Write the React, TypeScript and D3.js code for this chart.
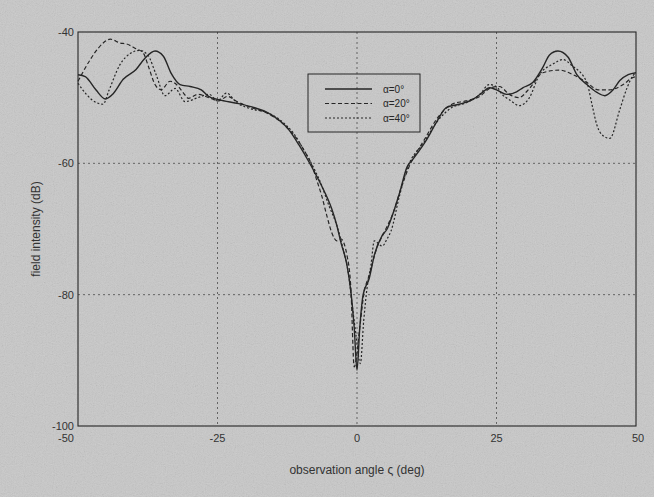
import React from "react";
import * as d3 from "d3";

const xTicks = [-50, -25, 0, 25, 50];
const yTicks = [-40, -60, -80, -100];
const legendLabels = ["α=0°", "α=20°", "α=40°"];

const xA0 = [-50, -48.7, -46.8, -45.1, -43.7, -41.9, -39.6, -38, -36.2, -34.7, -33.3, -31.7, -29.9, -27.9, -26.6, -24.8, -21.2, -18.5, -16.2, -14, -12.2, -10.4, -8.6, -7.2, -6.3, -4.5, -3.6, -2.9, -1.8, -1.1, -0.5, 0, 0.5, 1.1, 2.2, 3.1, 4.5, 5.4, 6.1, 7.6, 9, 9.9, 12.4, 14.2, 16, 18.3, 20.7, 22.5, 23.7, 25, 26.8, 28.6, 29.7, 31.5, 33.3, 34.5, 36, 37.8, 39.4, 41.2, 43, 44.4, 45.9, 47.1, 48.6, 50];
const yA0 = [-46.5, -46.8, -48.8, -50.2, -49.4, -47.2, -45.7, -44.0, -42.9, -43.7, -46.3, -48, -48.3, -48.8, -49.8, -50.3, -50.9, -51.5, -52.2, -53.4, -54.9, -57.2, -59.8, -62, -63.5, -67, -69.5, -72, -75.5, -79.5, -85, -91.5, -85, -80, -77.5, -74, -71, -70, -68.5, -64.6, -60.5, -59.5, -56.5, -53.8, -51.5, -51, -50.3, -49.2, -48.5, -48.8, -49.5, -49.1, -48.5, -47.7, -45.4, -43.5, -42.9, -43.8, -46.5, -48, -49.2, -49.7, -48.8, -47.4, -46.5, -46.2];

const xA20 = [-50, -47.8, -46.4, -44.2, -42.4, -41.4, -39.7, -38.3, -37.4, -36.2, -35.1, -33.5, -32, -31.1, -30.2, -28.5, -26.5, -24.8, -23.2, -21.5, -19, -16, -13.5, -11.5, -9.5, -8, -7.2, -6.3, -5.4, -4.5, -3.6, -2.9, -1.8, -1.1, -0.5, 0.5, 1.2, 2.2, 3.5, 5, 6.5, 8, 9.5, 12, 14.5, 17, 19.5, 22, 24, 25.5, 27.3, 29, 31, 33.3, 36.3, 38.7, 41.2, 43.2, 45.3, 47.7, 49.5, 50];
const yA20 = [-47.5, -44.2, -42.5, -41.1, -41.7, -41.8, -42.5, -43.2, -45.2, -48, -48.8, -47.5, -48.3, -49.3, -50.1, -49.5, -50, -50.5, -49.8, -50.6, -51.5, -52.4, -53.8, -55.5, -58, -60.5, -62.6, -65, -68, -70.6, -71.8, -71.5, -74, -79, -91, -85, -80, -77, -73, -70.3, -67.5, -63.5, -60.2, -56.5, -53, -51, -50.5, -49.8, -48.5, -48.3, -49.5, -50, -48.5, -46.2, -45.8, -46.5, -47.7, -48.8, -48.8, -48, -46.9, -46.8];

const xA40 = [-50, -48.5, -46.6, -45.5, -44.5, -42.5, -40.5, -39, -37.5, -36, -34.4, -32.6, -30.8, -28.5, -26.5, -25, -23.4, -21.5, -19, -16, -13.5, -11.5, -9.5, -8, -6.5, -5, -3.6, -2.5, -1.5, -0.8, -0.2, 0.6, 1.2, 1.8, 2.5, 3.1, 4.5, 5.4, 6.1, 7.6, 9, 12, 14.5, 17, 19.5, 22, 23.7, 25, 26, 27.3, 29.1, 30.9, 32.7, 35.1, 36.9, 38.5, 41.2, 42.1, 43, 44.1, 45.3, 47.1, 48.4, 49.5, 50];
const yA40 = [-47.8, -49.5, -50.8, -51, -49, -45, -43.2, -42.8, -43.5, -46.5, -49.7, -48.6, -50.6, -50, -49.5, -50.5, -49.3, -50.8, -51.7, -52.3, -53.6, -55.3, -58, -60.3, -63, -66.5, -69.5, -73, -77, -82, -86, -90.5, -84, -79, -75.5, -71.8, -72.6, -71.5, -70.3, -65, -60.8, -56.8, -53.5, -51.5, -50.8, -49.5, -48, -48.3, -49.5, -50.3, -51.2, -50, -46.5, -44.9, -44.2, -45.1, -47.7, -51, -54.2, -55.8, -56.2, -51.8, -48.5, -46.6, -46.2];

const W = 654;
const H = 497;
const L = 78, R = 636, T = 32, B = 426;

export default function App() {
  const x = d3.scaleLinear().domain([-50, 50]).range([L, R]);
  const y = d3.scaleLinear().domain([-100, -40]).range([B, T]);
  const line = d3
    .line<[number, number]>()
    .x((d) => x(d[0]))
    .y((d) => y(d[1]))
    .curve(d3.curveMonotoneX);
  const zip = (a: number[], b: number[]) => a.map((v, i) => [v, b[i]] as [number, number]);
  const series = [
    { xs: xA0, ys: yA0, dash: "none", w: 1.4 },
    { xs: xA20, ys: yA20, dash: "4,2.5", w: 1.2 },
    { xs: xA40, ys: yA40, dash: "2,2", w: 1.2 },
  ];
  const ink = "#262626";
  const font = "'Liberation Sans', Arial, sans-serif";
  const legX = 308, legY = 74, legW = 112, legH = 58;

  return (
    <svg width={W} height={H} style={{ position: "absolute", left: 0, top: 0 }}>
      <defs>
        <filter id="noise" x="0" y="0" width="100%" height="100%">
          <feTurbulence type="fractalNoise" baseFrequency="0.9" numOctaves={2} seed={3} result="t" />
          <feColorMatrix type="saturate" values="0" />
        </filter>
      </defs>
      <rect x={0} y={0} width={W} height={H} fill="#c8c8c8" />
      <rect x={0} y={0} width={W} height={H} filter="url(#noise)" opacity={0.28} />
      {/* grid */}
      {[-25, 0, 25].map((v) => (
        <line key={"gx" + v} x1={x(v)} x2={x(v)} y1={T} y2={B} stroke="#4a4a4a" strokeWidth={0.8} strokeDasharray="2,3" />
      ))}
      {[-60, -80].map((v) => (
        <line key={"gy" + v} x1={L} x2={R} y1={y(v)} y2={y(v)} stroke="#4a4a4a" strokeWidth={0.8} strokeDasharray="2,3" />
      ))}
      <rect x={L} y={T} width={R - L} height={B - T} fill="none" stroke={ink} strokeWidth={1.1} />
      {/* curves */}
      {series.map((s, i) => (
        <path key={i} d={line(zip(s.xs, s.ys)) || ""} fill="none" stroke={ink} strokeWidth={s.w} strokeDasharray={s.dash} />
      ))}
      {/* legend */}
      <rect x={legX} y={legY} width={legW} height={legH} fill="none" stroke={ink} strokeWidth={1} />
      {legendLabels.map((lab, i) => (
        <g key={lab}>
          <line x1={legX + 17} x2={legX + 64} y1={legY + 15 + i * 14.5} y2={legY + 15 + i * 14.5} stroke={ink} strokeWidth={series[i].w} strokeDasharray={series[i].dash} />
          <text x={legX + 75} y={legY + 15 + i * 14.5 + 3.5} fontSize={10} fontFamily={font} fill={ink}>{lab}</text>
        </g>
      ))}
      {/* ticks */}
      {yTicks.map((v) => (
        <text key={"yt" + v} x={L - 4} y={y(v) + 4} textAnchor="end" fontSize={11} fontFamily={font} fill="#333">{v}</text>
      ))}
      {xTicks.map((v) => (
        <text key={"xt" + v} x={x(v) - (v === -50 ? 12 : v === 50 ? -2 : 0)} y={B + 16} textAnchor="middle" fontSize={11} fontFamily={font} fill="#333">{v}</text>
      ))}
      <text x={(L + R) / 2} y={474} textAnchor="middle" fontSize={12} fontFamily={font} fill="#333">observation angle ς (deg)</text>
      <text transform={`translate(40,${(T + B) / 2}) rotate(-90)`} textAnchor="middle" fontSize={12} fontFamily={font} fill="#333">field intensity (dB)</text>
    </svg>
  );
}
